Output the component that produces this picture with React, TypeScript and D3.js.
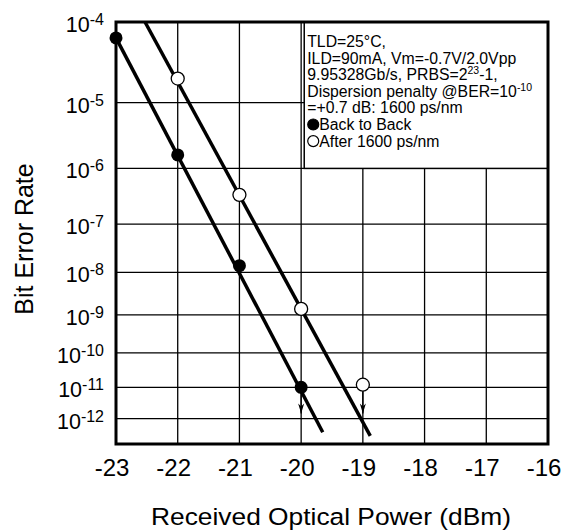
import React from "react";
import * as d3 from "d3";

// received optical power (dBm) ticks
const powerTicks = [-23, -22, -21, -20, -19, -18, -17, -16];
// BER decade exponents shown on the y axis
const berExponents = [-4, -5, -6, -7, -8, -9, -10, -11, -12];

// measured points
const b2bPower = [-23, -22, -21, -20];
const b2bBer = [6.6e-5, 1.66e-6, 1.4e-8, 1e-11];
const afterPower = [-22, -21, -20, -19];
const afterBer = [2.1e-5, 3.5e-7, 1.4e-9, 1.2e-11];

// fitted straight lines (end points)
const b2bFitPower = [-23, -19.65];
const b2bFitBer = [6.6e-5, 3.5e-13];
const afterFitPower = [-22.53, -18.88];
const afterFitBer = [1e-4, 2.6e-13];

// "error free" arrows below the last points
const arrowPower = [-20, -19];
const arrowFromBer = [1e-11, 1.2e-11];
const arrowToBer = 1.5e-12;

const legendLines = [
  ["TLD=25°C,"],
  ["ILD=90mA, Vm=-0.7V/2.0Vpp"],
  ["9.95328Gb/s, PRBS=2", "23", "-1,"],
  ["Dispersion penalty @BER=10", "-10", ""],
  ["=+0.7 dB: 1600 ps/nm"],
];
const seriesNames = ["Back to Back", "After 1600 ps/nm"];

const W = 565, H = 531;
const left = 116, top = 22, right = 548, bottom = 444;
const font = "'Liberation Sans', Arial, Helvetica, sans-serif";

export default function App() {
  const x = d3.scaleLinear().domain([-23, -16]).range([left, right]);
  // BER axis: log of -log10(BER)
  const q = d3.scaleLog().domain([4, 12.87]).range([top, bottom]);
  const y = (ber: number) => q(-Math.log10(ber));

  const line = d3.line<[number, number]>().x(d => x(d[0])).y(d => y(d[1]));
  const b2bFit = line(b2bFitPower.map((p, i) => [p, b2bFitBer[i]]));
  const afterFit = line(afterFitPower.map((p, i) => [p, afterFitBer[i]]));

  const legX = x(-19.95);
  const legBottom = y(1e-6);
  const ls = 16.6;
  const l0 = 47;

  return (
    <svg width={W} height={H} style={{ position: "absolute", left: 0, top: 0, background: "#fff" }} fontFamily={font}>
      {/* grid */}
      {powerTicks.map(p => (
        <line key={"vx" + p} x1={x(p)} x2={x(p)} y1={top} y2={bottom} stroke="#000" strokeWidth={1.3} />
      ))}
      {berExponents.map(e => (
        <line key={"hy" + e} x1={left} x2={right} y1={y(Math.pow(10, e))} y2={y(Math.pow(10, e))} stroke="#000" strokeWidth={1.3} />
      ))}

      {/* legend box */}
      <rect x={legX} y={top} width={right - legX} height={legBottom - top} fill="#fff" stroke="#000" strokeWidth={1.5} />
      <g fontSize={15.8} fill="#000">
        {legendLines.map((l, i) => (
          <text key={i} x={legX + 3} y={l0 + i * ls}>
            {l[0]}
            {l.length > 1 && <tspan fontSize={10.5} dy={-6}>{l[1]}</tspan>}
            {l.length > 1 && <tspan dy={6}>{l[2]}</tspan>}
          </text>
        ))}
        {seriesNames.map((s, i) => (
          <g key={s}>
            <circle cx={legX + 9} cy={l0 + (5 + i) * ls - 5.5} r={5.5} fill={i === 0 ? "#000" : "#fff"} stroke="#000" strokeWidth={1.2} />
            <text x={legX + 15} y={l0 + (5 + i) * ls}>{s}</text>
          </g>
        ))}
      </g>

      {/* fitted lines */}
      <path d={b2bFit || ""} fill="none" stroke="#000" strokeWidth={3.5} />
      <path d={afterFit || ""} fill="none" stroke="#000" strokeWidth={3.5} />

      {/* arrows */}
      {arrowPower.map((p, i) => {
        const ax = x(p), y0 = y(arrowFromBer[i]), y1 = y(arrowToBer);
        return (
          <g key={"ar" + p}>
            <line x1={ax} x2={ax} y1={y0} y2={y1} stroke="#000" strokeWidth={1.3} />
            <path d={`M${ax},${y1} L${ax - 3},${y1 - 10} L${ax},${y1 - 7} L${ax + 3},${y1 - 10} Z`} fill="#000" />
          </g>
        );
      })}

      {/* points */}
      {b2bPower.map((p, i) => (
        <circle key={"b" + p} cx={x(p)} cy={y(b2bBer[i])} r={6.5} fill="#000" />
      ))}
      {afterPower.map((p, i) => (
        <circle key={"a" + p} cx={x(p)} cy={y(afterBer[i])} r={6.5} fill="#fff" stroke="#000" strokeWidth={1.3} />
      ))}

      {/* frame */}
      <rect x={left} y={top} width={right - left} height={bottom - top} fill="none" stroke="#000" strokeWidth={3} />

      {/* y tick labels */}
      {berExponents.map(e => (
        <text key={"yl" + e} x={104} y={y(Math.pow(10, e)) + 10} textAnchor="end" fontSize={21.5}>
          10<tspan fontSize={16} dy={-7}>{e}</tspan>
        </text>
      ))}
      {/* x tick labels */}
      {powerTicks.map(p => (
        <text key={"xl" + p} x={x(p) - 4} y={476} textAnchor="middle" fontSize={24}>{p}</text>
      ))}

      <text x={331} y={525} textAnchor="middle" fontSize={24.5} textLength={360} lengthAdjust="spacingAndGlyphs">Received Optical Power (dBm)</text>
      <text transform={`translate(33,239) rotate(-90)`} textAnchor="middle" fontSize={25}>Bit Error Rate</text>
    </svg>
  );
}
